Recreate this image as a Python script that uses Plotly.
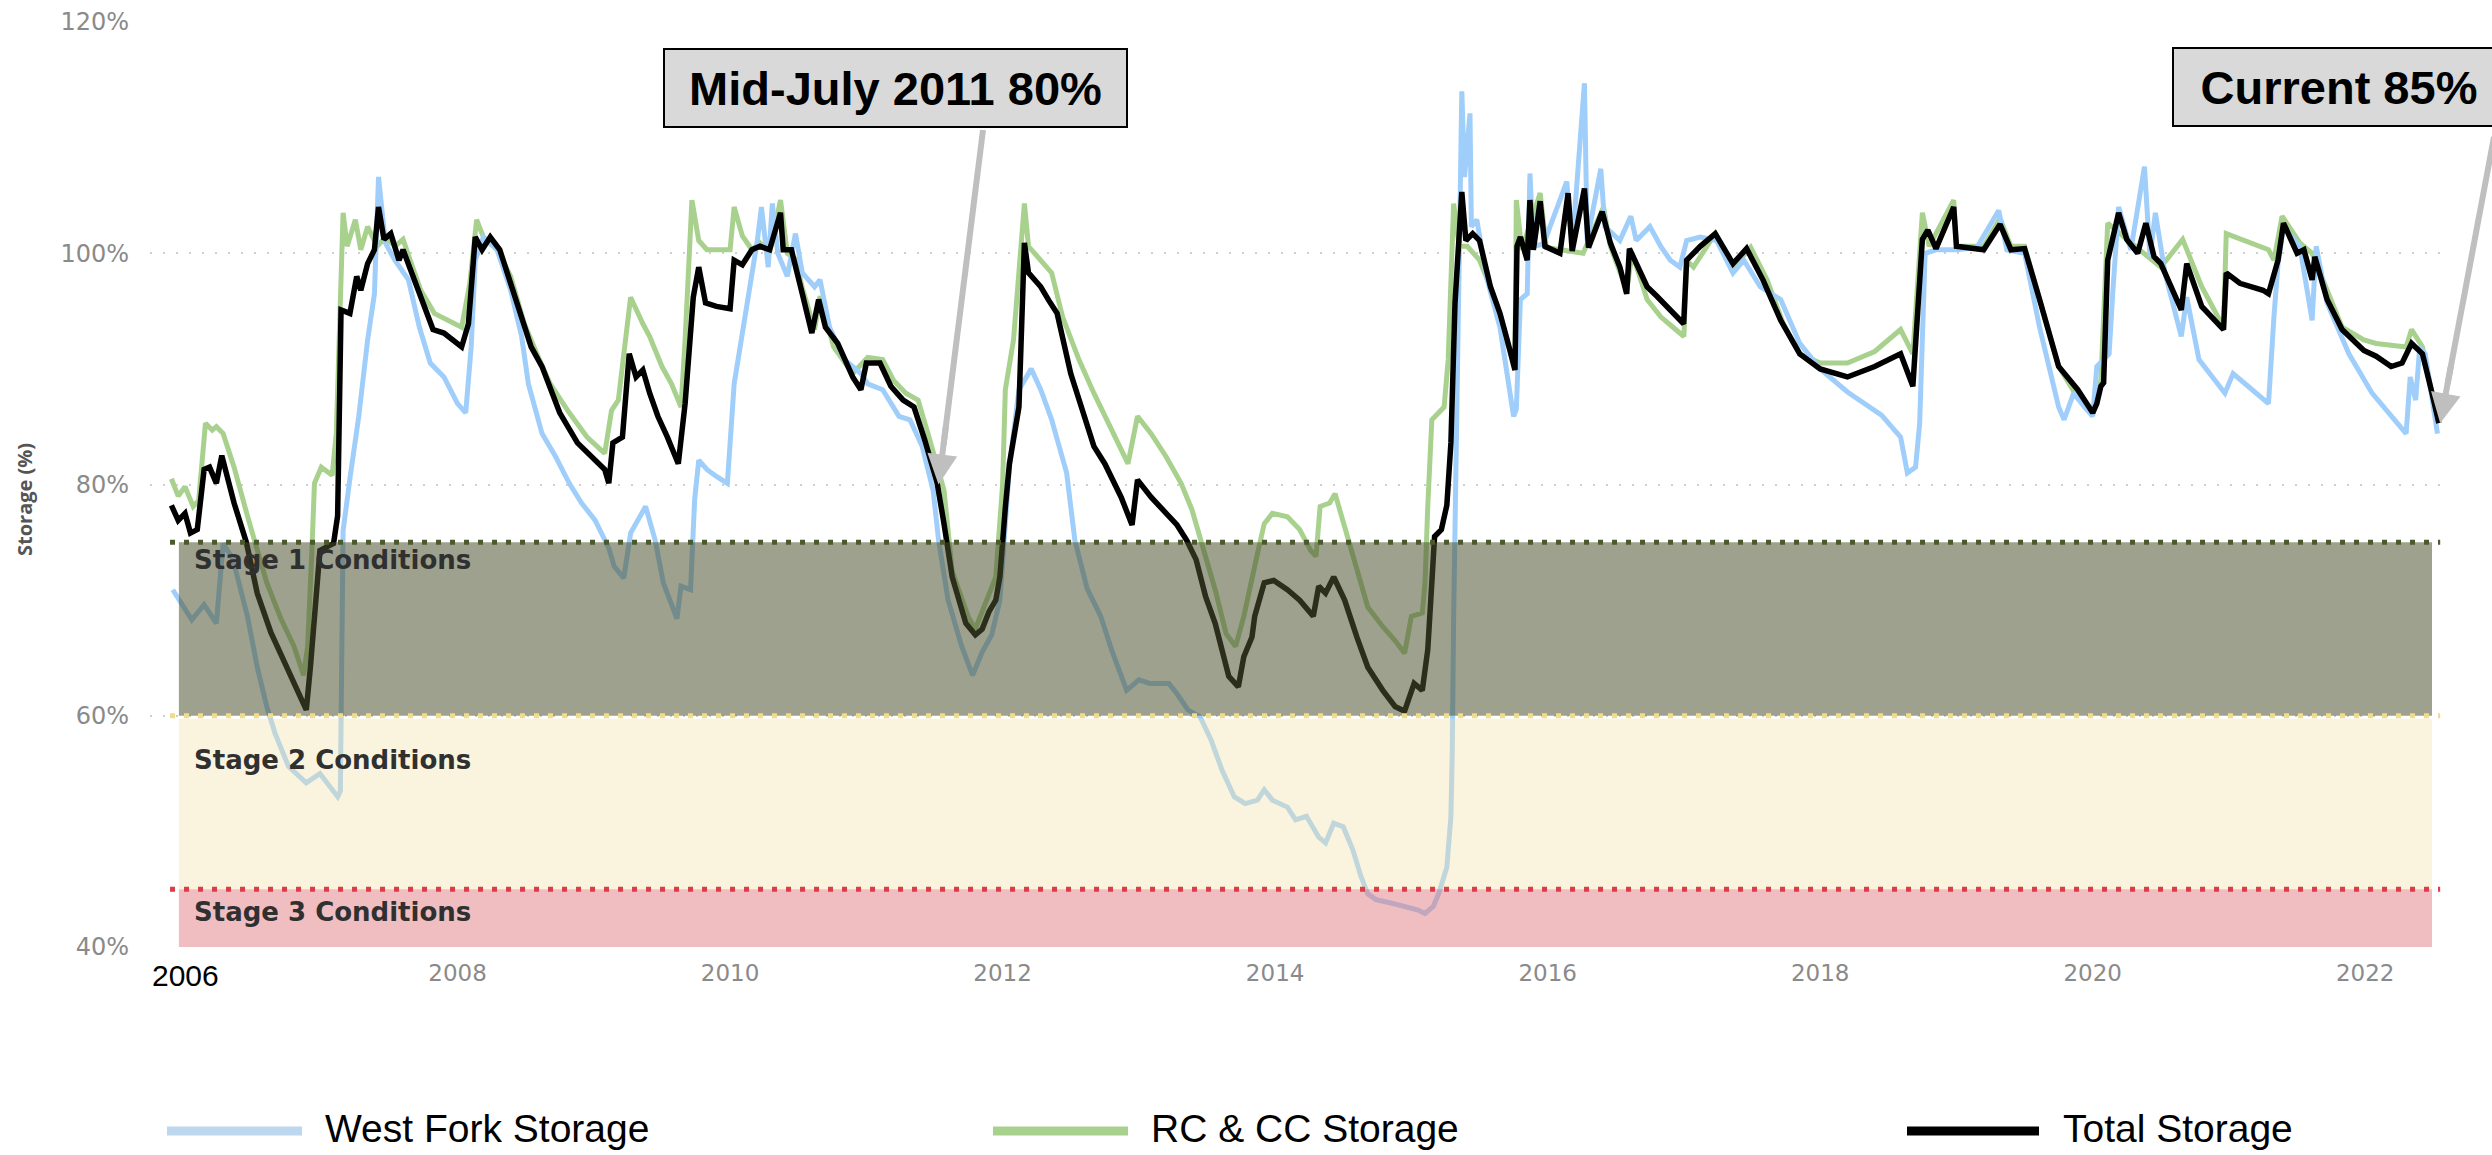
import plotly.graph_objects as go

# ---------------- data (decimal years, % storage) ----------------
tot_year = [2005.90, 2005.95, 2006.00, 2006.04, 2006.09, 2006.14, 2006.18, 2006.23, 2006.27, 2006.36,
            2006.45, 2006.53, 2006.63, 2006.73, 2006.82, 2006.89, 2006.92, 2006.96, 2006.99, 2007.09,
            2007.12, 2007.145, 2007.21, 2007.26, 2007.29, 2007.34, 2007.39, 2007.42, 2007.46, 2007.51,
            2007.57, 2007.60, 2007.67, 2007.73, 2007.82, 2007.90, 2007.96, 2008.03, 2008.08, 2008.13,
            2008.18, 2008.24, 2008.31, 2008.39, 2008.47, 2008.54, 2008.62, 2008.75, 2008.88, 2008.98,
            2009.08, 2009.11, 2009.14, 2009.21, 2009.26, 2009.31, 2009.36, 2009.41, 2009.47, 2009.54,
            2009.62, 2009.67, 2009.73, 2009.77, 2009.82, 2009.90, 2010.00, 2010.03, 2010.09, 2010.16,
            2010.22, 2010.29, 2010.37, 2010.39, 2010.45, 2010.53, 2010.60, 2010.65, 2010.70, 2010.79,
            2010.90, 2010.96, 2011.00, 2011.10, 2011.18, 2011.27, 2011.35, 2011.43, 2011.52, 2011.57,
            2011.63, 2011.73, 2011.80, 2011.85, 2011.90, 2011.95, 2011.98, 2012.02, 2012.05, 2012.12,
            2012.16, 2012.19, 2012.28, 2012.34, 2012.40, 2012.50, 2012.58, 2012.67, 2012.75, 2012.87,
            2012.95, 2012.99, 2013.09, 2013.20, 2013.28, 2013.35, 2013.42, 2013.49, 2013.56, 2013.66,
            2013.73, 2013.77, 2013.83, 2013.85, 2013.92, 2013.99, 2014.09, 2014.18, 2014.28, 2014.32,
            2014.37, 2014.43, 2014.51, 2014.60, 2014.68, 2014.79, 2014.88, 2014.95, 2015.02, 2015.08,
            2015.12, 2015.15, 2015.17, 2015.22, 2015.26, 2015.29, 2015.32, 2015.37, 2015.40, 2015.45,
            2015.50, 2015.58, 2015.65, 2015.71, 2015.76, 2015.775, 2015.80, 2015.85, 2015.87, 2015.895,
            2015.945, 2015.98, 2016.09, 2016.15, 2016.18, 2016.27, 2016.30, 2016.40, 2016.46, 2016.53,
            2016.58, 2016.60, 2016.73, 2016.80, 2016.87, 2016.998, 2017.02, 2017.12, 2017.23, 2017.36,
            2017.46, 2017.58, 2017.71, 2017.85, 2018.00, 2018.20, 2018.40, 2018.59, 2018.68, 2018.75,
            2018.79, 2018.85, 2018.98, 2019.00, 2019.20, 2019.32, 2019.40, 2019.50, 2019.61, 2019.75,
            2019.89, 2020.00, 2020.03, 2020.06, 2020.08, 2020.11, 2020.19, 2020.25, 2020.33, 2020.39,
            2020.45, 2020.50, 2020.65, 2020.69, 2020.80, 2020.96, 2020.98, 2021.08, 2021.25, 2021.29,
            2021.36, 2021.40, 2021.50, 2021.55, 2021.61, 2021.63, 2021.72, 2021.83, 2021.99, 2022.08,
            2022.19, 2022.27, 2022.34, 2022.42, 2022.49, 2022.54]
tot_pct = [78.2, 76.9, 77.5, 75.8, 76.1, 81.3, 81.5, 80.1, 82.5, 78.4,
           75.0, 70.6, 67.2, 64.6, 62.5, 60.5, 64.2, 70.0, 74.3, 74.9,
           77.3, 95.1, 94.8, 98.0, 96.8, 99.1, 100.3, 104.0, 101.2, 101.7,
           99.4, 100.3, 98.0, 96.2, 93.4, 93.1, 92.5, 91.9, 93.9, 101.4,
           100.3, 101.4, 100.3, 97.4, 94.5, 91.9, 90.2, 86.2, 83.6, 82.4,
           81.3, 80.1, 83.6, 84.1, 91.3, 89.3, 89.9, 87.9, 85.9, 84.1,
           81.8, 87.0, 96.2, 98.8, 95.7, 95.4, 95.2, 99.4, 99.0, 100.3,
           100.6, 100.3, 103.5, 100.3, 100.3, 96.5, 93.1, 96.0, 93.6, 92.2,
           89.3, 88.2, 90.5, 90.5, 88.5, 87.3, 86.7, 83.8, 80.1, 76.6,
           72.0, 68.0, 67.0, 67.5, 69.0, 70.0, 72.0, 78.0, 81.8, 86.7,
           100.9, 98.3, 97.1, 95.9, 94.8, 89.6, 86.7, 83.3, 81.8, 78.9,
           76.5, 80.4, 78.9, 77.5, 76.5, 75.2, 73.5, 70.3, 68.0, 63.4,
           62.5, 65.1, 66.8, 68.6, 71.5, 71.7, 70.9, 70.0, 68.6, 71.2,
           70.6, 72.0, 70.0, 66.8, 64.2, 62.2, 60.8, 60.4, 62.8, 62.2,
           65.7, 71.5, 75.5, 76.1, 78.2, 83.6, 95.7, 105.3, 101.1, 101.7,
           101.1, 97.1, 94.8, 92.2, 89.9, 100.6, 101.4, 99.4, 104.6, 100.3,
           104.5, 100.6, 100.0, 105.2, 100.2, 105.6, 100.5, 103.6, 100.9, 98.8,
           96.5, 100.4, 97.1, 96.3, 95.4, 93.9, 99.4, 100.6, 101.7, 99.1,
           100.4, 97.7, 94.2, 91.3, 90.0, 89.3, 90.2, 91.3, 88.5, 101.2,
           102.0, 100.4, 104.0, 100.6, 100.3, 102.5, 100.3, 100.4, 96.0, 90.2,
           88.2, 86.2, 87.0, 88.5, 88.8, 99.4, 103.5, 101.2, 100.0, 102.6,
           99.7, 99.1, 95.1, 99.1, 95.4, 93.4, 98.3, 97.4, 96.8, 96.5,
           99.4, 102.6, 100.0, 100.3, 97.7, 99.7, 96.0, 93.4, 91.6, 91.1,
           90.2, 90.5, 92.2, 91.3, 87.9, 85.3]

wf_year = [2005.91, 2005.97, 2006.05, 2006.14, 2006.23, 2006.28, 2006.35, 2006.46, 2006.53, 2006.60,
           2006.66, 2006.76, 2006.89, 2006.99, 2007.06, 2007.12, 2007.14, 2007.16, 2007.21, 2007.275,
           2007.34, 2007.39, 2007.42, 2007.47, 2007.54, 2007.64, 2007.72, 2007.80, 2007.90, 2008.00,
           2008.06, 2008.10, 2008.13, 2008.19, 2008.29, 2008.39, 2008.47, 2008.52, 2008.62, 2008.72,
           2008.82, 2008.91, 2009.01, 2009.11, 2009.15, 2009.22, 2009.27, 2009.31, 2009.38, 2009.45,
           2009.51, 2009.61, 2009.64, 2009.71, 2009.74, 2009.77, 2009.83, 2009.90, 2009.98, 2010.03,
           2010.09, 2010.14, 2010.20, 2010.23, 2010.28, 2010.31, 2010.35, 2010.42, 2010.48, 2010.53,
           2010.62, 2010.66, 2010.73, 2010.84, 2010.96, 2011.01, 2011.12, 2011.24, 2011.32, 2011.41,
           2011.49, 2011.53, 2011.60, 2011.70, 2011.78, 2011.85, 2011.92, 2011.98, 2012.02, 2012.05,
           2012.12, 2012.21, 2012.28, 2012.36, 2012.47, 2012.53, 2012.62, 2012.72, 2012.80, 2012.91,
           2013.00, 2013.08, 2013.22, 2013.28, 2013.36, 2013.45, 2013.53, 2013.61, 2013.70, 2013.78,
           2013.87, 2013.92, 2013.98, 2014.09, 2014.15, 2014.23, 2014.32, 2014.37, 2014.43, 2014.50,
           2014.57, 2014.63, 2014.68, 2014.74, 2014.85, 2014.96, 2015.05, 2015.10, 2015.16, 2015.20,
           2015.26, 2015.29, 2015.30, 2015.31, 2015.33, 2015.35, 2015.37, 2015.39, 2015.43, 2015.44,
           2015.48, 2015.55, 2015.65, 2015.75, 2015.77, 2015.80, 2015.85, 2015.87, 2015.895, 2015.97,
           2016.14, 2016.18, 2016.27, 2016.29, 2016.39, 2016.42, 2016.53, 2016.61, 2016.65, 2016.75,
           2016.83, 2016.90, 2016.97, 2017.02, 2017.12, 2017.24, 2017.36, 2017.44, 2017.56, 2017.71,
           2017.85, 2018.00, 2018.20, 2018.45, 2018.59, 2018.64, 2018.70, 2018.73, 2018.77, 2018.85,
           2019.00, 2019.15, 2019.31, 2019.37, 2019.50, 2019.61, 2019.75, 2019.79, 2019.86, 2019.94,
           2020.00, 2020.03, 2020.12, 2020.15, 2020.19, 2020.28, 2020.38, 2020.42, 2020.46, 2020.53,
           2020.65, 2020.69, 2020.78, 2020.97, 2021.03, 2021.14, 2021.29, 2021.33, 2021.36, 2021.40,
           2021.52, 2021.61, 2021.64, 2021.72, 2021.88, 2022.05, 2022.16, 2022.30, 2022.33, 2022.37,
           2022.40, 2022.44, 2022.53]
wf_pct = [70.9, 69.8, 68.3, 69.6, 68.0, 74.9, 73.6, 68.5, 64.2, 60.8,
          58.5, 55.6, 54.2, 55.0, 54.0, 53.0, 53.5, 76.0, 80.5, 85.9,
          92.5, 96.5, 106.6, 100.9, 99.4, 97.7, 93.6, 90.5, 89.3, 87.0,
          86.2, 91.9, 99.4, 101.4, 100.3, 96.8, 92.8, 88.7, 84.4, 82.4,
          80.1, 78.4, 76.9, 74.5, 72.9, 71.9, 75.8, 76.6, 78.1, 75.2,
          71.5, 68.4, 71.2, 70.9, 78.7, 82.1, 81.3, 80.7, 80.1, 88.7,
          93.1, 96.5, 101.1, 104.0, 98.8, 104.3, 100.0, 98.0, 101.7, 98.3,
          97.1, 97.7, 93.6, 90.8, 89.6, 88.7, 88.2, 85.9, 85.6, 83.3,
          79.5, 75.2, 70.0, 66.0, 63.5, 65.5, 67.0, 70.0, 76.0, 81.5,
          88.2, 90.0, 88.2, 85.6, 81.0, 75.2, 71.0, 68.6, 65.7, 62.2,
          63.1, 62.8, 62.8, 61.9, 60.5, 59.9, 57.9, 55.3, 53.0, 52.4,
          52.7, 53.6, 52.7, 52.1, 51.0, 51.3, 49.5, 49.0, 50.7, 50.4,
          48.4, 46.1, 44.6, 44.1, 43.8, 43.5, 43.2, 42.9, 43.5, 44.6,
          46.9, 51.3, 57.0, 68.6, 83.0, 96.5, 114.0, 106.6, 112.1, 102.3,
          102.9, 98.0, 93.6, 85.9, 86.5, 96.0, 96.5, 106.9, 100.6, 100.8,
          106.2, 100.6, 114.7, 101.1, 107.3, 102.3, 101.1, 103.2, 101.1, 102.3,
          100.6, 99.4, 98.8, 101.1, 101.4, 101.1, 98.3, 99.4, 97.1, 96.0,
          92.2, 90.0, 88.0, 86.0, 84.1, 81.0, 81.5, 85.3, 100.0, 100.3,
          100.3, 100.5, 103.7, 100.3, 100.0, 93.6, 86.7, 85.6, 87.9, 86.7,
          85.9, 90.2, 91.3, 97.1, 104.0, 100.3, 107.5, 99.7, 103.5, 98.3,
          92.8, 96.2, 90.8, 87.9, 89.6, 88.5, 87.0, 94.5, 99.1, 102.3,
          100.6, 94.2, 100.6, 95.7, 91.3, 87.9, 86.4, 84.4, 89.3, 87.3,
          91.9, 91.3, 84.4]

rc_year = [2005.90, 2005.95, 2006.00, 2006.06, 2006.10, 2006.15, 2006.20, 2006.23, 2006.28, 2006.36,
           2006.46, 2006.51, 2006.60, 2006.70, 2006.80, 2006.87, 2006.90, 2006.93, 2006.95, 2007.00,
           2007.08, 2007.11, 2007.16, 2007.19, 2007.25, 2007.29, 2007.34, 2007.41, 2007.47, 2007.54,
           2007.60, 2007.67, 2007.73, 2007.83, 2007.93, 2008.03, 2008.09, 2008.14, 2008.19, 2008.29,
           2008.39, 2008.49, 2008.59, 2008.68, 2008.82, 2008.95, 2009.08, 2009.13, 2009.18, 2009.27,
           2009.36, 2009.41, 2009.50, 2009.57, 2009.64, 2009.67, 2009.72, 2009.77, 2009.83, 2010.00,
           2010.03, 2010.09, 2010.16, 2010.22, 2010.29, 2010.37, 2010.42, 2010.48, 2010.53, 2010.62,
           2010.66, 2010.76, 2010.90, 2011.01, 2011.12, 2011.20, 2011.29, 2011.38, 2011.46, 2011.57,
           2011.63, 2011.75, 2011.80, 2011.88, 2011.95, 2012.00, 2012.02, 2012.08, 2012.16, 2012.19,
           2012.36, 2012.44, 2012.56, 2012.67, 2012.78, 2012.92, 2012.99, 2013.09, 2013.20, 2013.31,
           2013.39, 2013.475, 2013.56, 2013.64, 2013.71, 2013.77, 2013.81, 2013.87, 2013.92, 2013.98,
           2014.09, 2014.18, 2014.26, 2014.30, 2014.33, 2014.40, 2014.44, 2014.51, 2014.60, 2014.68,
           2014.79, 2014.88, 2014.95, 2015.00, 2015.08, 2015.10, 2015.12, 2015.15, 2015.24, 2015.27,
           2015.31, 2015.35, 2015.41, 2015.50, 2015.60, 2015.70, 2015.76, 2015.77, 2015.81, 2015.945,
           2015.99, 2016.26, 2016.41, 2016.46, 2016.58, 2016.62, 2016.73, 2016.83, 2016.92, 2017.00,
           2017.02, 2017.07, 2017.23, 2017.36, 2017.49, 2017.61, 2017.73, 2017.85, 2018.00, 2018.20,
           2018.40, 2018.59, 2018.68, 2018.75, 2018.80, 2018.98, 2019.00, 2019.20, 2019.32, 2019.40,
           2019.50, 2019.61, 2019.75, 2019.89, 2020.00, 2020.06, 2020.11, 2020.25, 2020.50, 2020.66,
           2020.80, 2020.96, 2020.98, 2021.29, 2021.33, 2021.39, 2021.52, 2021.61, 2021.83, 2021.99,
           2022.08, 2022.30, 2022.34, 2022.42, 2022.53]
rc_pct = [80.5, 79.0, 79.8, 78.1, 78.6, 85.3, 84.7, 85.0, 84.4, 81.5,
          77.2, 75.2, 71.5, 68.5, 66.0, 63.5, 66.0, 74.0, 80.1, 81.5,
          80.8, 84.4, 103.5, 100.6, 102.9, 100.3, 102.3, 100.6, 101.4, 100.6,
          101.2, 98.8, 96.8, 94.8, 94.2, 93.6, 97.4, 102.9, 101.4, 100.3,
          98.0, 93.9, 91.1, 88.7, 86.2, 84.1, 82.7, 86.4, 87.3, 96.2,
          93.9, 92.8, 90.2, 88.7, 86.7, 92.5, 104.6, 101.1, 100.3, 100.3,
          104.0, 101.5, 100.3, 100.9, 100.0, 104.6, 100.0, 99.5, 97.0, 93.4,
          96.3, 91.9, 89.6, 91.0, 90.8, 89.0, 87.9, 87.3, 84.1, 79.5,
          72.5, 68.5, 67.5, 70.0, 72.0, 80.0, 88.2, 92.5, 104.3, 100.6,
          98.3, 94.5, 90.8, 87.9, 85.3, 81.8, 85.9, 84.4, 82.4, 80.1,
          77.8, 74.3, 70.9, 67.1, 66.0, 68.6, 70.9, 74.0, 76.6, 77.5,
          77.2, 76.1, 74.3, 73.8, 78.1, 78.4, 79.2, 76.4, 72.9, 69.4,
          67.7, 66.5, 65.4, 68.6, 68.9, 71.5, 78.1, 85.6, 86.7, 90.8,
          104.3, 100.6, 100.6, 99.4, 96.5, 92.2, 90.8, 104.6, 100.3, 105.2,
          100.5, 100.0, 104.0, 100.6, 96.8, 100.0, 96.0, 94.5, 93.6, 92.8,
          99.4, 98.8, 101.7, 98.8, 100.5, 97.7, 93.9, 91.3, 90.5, 90.5,
          91.5, 93.4, 91.3, 103.5, 100.6, 104.6, 100.6, 100.6, 103.0, 100.6,
          100.6, 96.0, 90.2, 87.5, 86.5, 89.0, 102.6, 101.2, 98.8, 101.2,
          97.1, 93.6, 101.7, 100.3, 99.4, 103.2, 100.9, 100.0, 93.6, 92.5,
          92.2, 91.9, 93.4, 91.9, 85.6]

# legend / series names
series_names = ["West Fork Storage", "RC & CC Storage", "Total Storage"]

# drought stage bands
stage_labels = ["Stage 1 Conditions", "Stage 2 Conditions", "Stage 3 Conditions"]
stage_low = [60, 45, 40]
stage_high = [75, 60, 45]
stage_label_y = [73.5, 56.2, 43.0]

# y ticks / x ticks
y_ticks = [40, 60, 80, 100, 120]
x_ticks = [2008, 2010, 2012, 2014, 2016, 2018, 2020, 2022]

# callouts: text and arrow tip (data)
callout_text = ["Mid-July 2011 80%", "Current 85%"]
callout_x = [2011.53, 2022.55]
callout_y = [80, 85.3]

# ---------------- figure ----------------
W, H = 2492, 1155
ML, MR, MT, MB = 150, 45, 22, 208
PW, PH = W - ML - MR, H - MT - MB
X_RANGE = [2005.743, 2022.60]
Y_RANGE = [40, 120]


def px_x(p):
    return (p - ML) / PW


def px_y(p):
    return (H - MB - p) / PH


def data_to_px(x, y):
    return (ML + (x - X_RANGE[0]) / (X_RANGE[1] - X_RANGE[0]) * PW,
            MT + (Y_RANGE[1] - y) / (Y_RANGE[1] - Y_RANGE[0]) * PH)


BLUE = "rgb(160,206,250)"
GREEN = "rgb(169,209,142)"
BLACK = "#000000"
ARROW = "#BFBFBF"

fig = go.Figure()
fig.add_trace(go.Scatter(x=rc_year, y=rc_pct, mode="lines", name=series_names[1],
                         line=dict(color=GREEN, width=5), showlegend=False, hoverinfo="skip"))
fig.add_trace(go.Scatter(x=wf_year, y=wf_pct, mode="lines", name=series_names[0],
                         line=dict(color=BLUE, width=5), showlegend=False, hoverinfo="skip"))
fig.add_trace(go.Scatter(x=tot_year, y=tot_pct, mode="lines", name=series_names[2],
                         line=dict(color=BLACK, width=5.5), showlegend=False, hoverinfo="skip"))

band_fill = ["rgba(79,84,48,0.55)", "rgba(242,228,172,0.4)", "rgba(225,125,131,0.5)"]
band_line = ["#4b5a2d", "#f0dc8c", "#dc3c46"]
band_x0, band_x1 = 2005.955, 2022.49
line_x0, line_x1 = 2005.89, 2022.55

shapes = []
annotations = []
for i in range(3):
    top = stage_high[i] - (0.25 if i == 1 else 0)
    shapes.append(dict(type="rect", xref="x", yref="y", x0=band_x0, x1=band_x1,
                       y0=stage_low[i], y1=top, fillcolor=band_fill[i],
                       line=dict(width=0), layer="above"))
    shapes.append(dict(type="line", xref="x", yref="y", x0=line_x0, x1=line_x1,
                       y0=stage_high[i], y1=stage_high[i],
                       line=dict(color=band_line[i], width=5, dash="5px,9px"), layer="above"))
    annotations.append(dict(x=2006.05, y=stage_label_y[i], xref="x", yref="y",
                            text="<b>" + stage_labels[i] + "</b>", showarrow=False,
                            xanchor="left", yanchor="middle",
                            font=dict(family="DejaVu Sans", size=26, color="#303030")))

# callout arrows: shaft drawn as a paper line, head as a short annotation arrow
tail_px = [(983, 130), (2494, 137)]
for i in range(2):
    tx, ty = data_to_px(callout_x[i], callout_y[i])
    sx, sy = tail_px[i]
    dx, dy = sx - tx, sy - ty
    L = (dx * dx + dy * dy) ** 0.5
    ux, uy = dx / L, dy / L
    mx, my = tx + ux * 40, ty + uy * 40
    shapes.append(dict(type="line", xref="paper", yref="paper",
                       x0=px_x(sx), y0=px_y(sy), x1=px_x(mx), y1=px_y(my),
                       line=dict(color=ARROW, width=6), layer="above"))
    annotations.append(dict(x=callout_x[i], y=callout_y[i], xref="x", yref="y",
                            text="", showarrow=True, ax=ux * 60, ay=uy * 60,
                            font=dict(size=1),
                            arrowcolor=ARROW, arrowwidth=6, arrowhead=2, arrowsize=1))

# callout boxes (text)
box_cx = [px_x(895), px_x(2339)]
box_cy = [px_y(88), px_y(87)]
box_w = [441, 310]
for i in range(2):
    annotations.append(dict(x=box_cx[i], y=box_cy[i], xref="paper", yref="paper",
                            text="<b>" + callout_text[i] + "</b>", showarrow=False,
                            xanchor="center", yanchor="middle",
                            font=dict(family="Liberation Sans, Arial", size=47, color="black"),
                            bgcolor="#D9D9D9", bordercolor="black", borderwidth=2,
                            borderpad=10, width=box_w[i], height=56))

# 2006 label (black)
annotations.append(dict(x=2006, y=0, xref="x", yref="paper", yshift=-28,
                        text="2006", showarrow=False, xanchor="center", yanchor="middle",
                        font=dict(family="Liberation Sans, Arial", size=30, color="black")))

# y axis title
annotations.append(dict(x=px_x(24), y=px_y(500), xref="paper", yref="paper",
                        text="<b>Storage (%)</b>", textangle=-90, showarrow=False,
                        xanchor="center", yanchor="middle",
                        font=dict(family="Open Sans", size=20, color="#555555")))

# legend (manual, below plot)
leg_colors = ["rgb(189,215,238)", GREEN, BLACK]
leg_x0 = [167, 993, 1907]
leg_x1 = [302, 1128, 2039]
leg_tx = [323, 1149, 2061]
leg_y = 1128
for i in range(3):
    shapes.append(dict(type="line", xref="paper", yref="paper",
                       x0=px_x(leg_x0[i]), x1=px_x(leg_x1[i]), y0=px_y(leg_y + 3), y1=px_y(leg_y + 3),
                       line=dict(color=leg_colors[i], width=9)))
    annotations.append(dict(x=px_x(leg_tx[i]), y=px_y(leg_y), xref="paper", yref="paper",
                            text=series_names[i], showarrow=False, xanchor="left", yanchor="middle",
                            font=dict(family="Liberation Sans, Arial", size=39, color="black")))

fig.update_layout(
    width=W, height=H,
    margin=dict(l=ML, r=MR, t=MT, b=MB, autoexpand=False),
    paper_bgcolor="white", plot_bgcolor="white",
    showlegend=False,
    shapes=shapes, annotations=annotations,
    xaxis=dict(range=X_RANGE, tickvals=x_ticks, ticktext=[str(t) for t in x_ticks],
               showgrid=False, zeroline=False, showline=False, ticks="",
               ticklabelstandoff=10,
               tickfont=dict(family="DejaVu Sans", size=23, color="#8a8a8a")),
    yaxis=dict(range=Y_RANGE, tickvals=y_ticks, ticktext=[f"{t}%" for t in y_ticks],
               showgrid=True, gridcolor="#cfcfcf", gridwidth=2, griddash="2px,11px",
               zeroline=False, showline=False, ticks="", ticklabelstandoff=20,
               tickfont=dict(family="DejaVu Sans", size=24, color="#8a8a8a")),
)

fig.write_html("out.html",
               config={"displayModeBar": False},
               post_script="document.body.style.margin='0px';document.body.style.overflow='hidden';")
